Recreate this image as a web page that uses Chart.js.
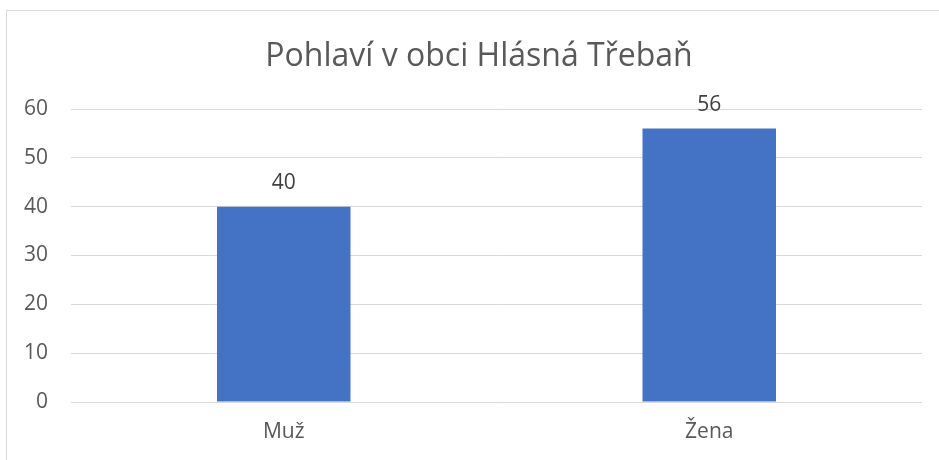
<!DOCTYPE html>
<html>
<head>
<meta charset="utf-8">
<script src="https://cdn.jsdelivr.net/npm/chart.js@4"></script>
<style>
html,body{margin:0;padding:0;background:#fff;}
canvas{display:block;}
</style>
</head>
<body>
<canvas id="c" width="939" height="460"></canvas>
<script>
const categories = ['Muž', 'Žena'];
const values = [40, 56];
const titleText = 'Pohlaví v obci Hlásná Třebaň';
const yMin = 0, yMax = 60, yStep = 10;

const FONT = "'Open Sans', 'Noto Sans', sans-serif";

const frame = {
  id: 'frame',
  beforeDraw(chart) {
    const ctx = chart.ctx;
    ctx.save();
    ctx.fillStyle = '#fff';
    ctx.fillRect(0, 0, chart.width, chart.height);
    ctx.strokeStyle = '#d9d9d9';
    ctx.lineWidth = 1;
    ctx.beginPath();
    ctx.moveTo(6.5, chart.height);
    ctx.lineTo(6.5, 10.5);
    ctx.lineTo(chart.width, 10.5);
    ctx.stroke();
    ctx.restore();
  }
};

const titleDraw = {
  id: 'titleDraw',
  afterDraw(chart) {
    const ctx = chart.ctx;
    ctx.save();
    ctx.font = '32px ' + FONT;
    ctx.fillStyle = '#595959';
    ctx.textAlign = 'center';
    ctx.textBaseline = 'middle';
    ctx.fillText(titleText, 479, 56.7);
    ctx.restore();
  }
};

const valueLabels = {
  id: 'valueLabels',
  afterDatasetsDraw(chart) {
    const ctx = chart.ctx;
    ctx.save();
    ctx.font = '21px ' + FONT;
    ctx.fillStyle = '#404040';
    ctx.textAlign = 'center';
    ctx.textBaseline = 'alphabetic';
    chart.getDatasetMeta(0).data.forEach((bar, i) => {
      ctx.fillText(String(values[i]), bar.x, bar.y - 17.5);
    });
    ctx.restore();
  }
};

new Chart(document.getElementById('c'), {
  type: 'bar',
  data: {
    labels: categories,
    datasets: [{
      data: values,
      backgroundColor: '#4472C4',
      borderWidth: 0,
      barPercentage: 0.3137,
      categoryPercentage: 1
    }]
  },
  options: {
    responsive: false,
    animation: false,
    devicePixelRatio: 1,
    layout: { padding: { left: 0, right: 17, top: 109, bottom: 0 } },
    plugins: {
      legend: { display: false },
      tooltip: { enabled: false },
      title: { display: false }
    },
    scales: {
      x: {
        grid: { display: false, drawTicks: false },
        border: { display: false },
        ticks: { color: '#595959', font: { family: FONT, size: 21 }, padding: 17 },
        afterFit(s) { s.height = 58; }
      },
      y: {
        min: yMin, max: yMax,
        grid: { color: '#d9d9d9', lineWidth: 1, drawTicks: false },
        border: { display: false },
        ticks: { stepSize: yStep, color: '#595959', font: { family: FONT, size: 21 }, padding: 23 },
        afterFit(s) { s.width = 71; }
      }
    }
  },
  plugins: [frame, valueLabels, titleDraw]
});
</script>
</body>
</html>
